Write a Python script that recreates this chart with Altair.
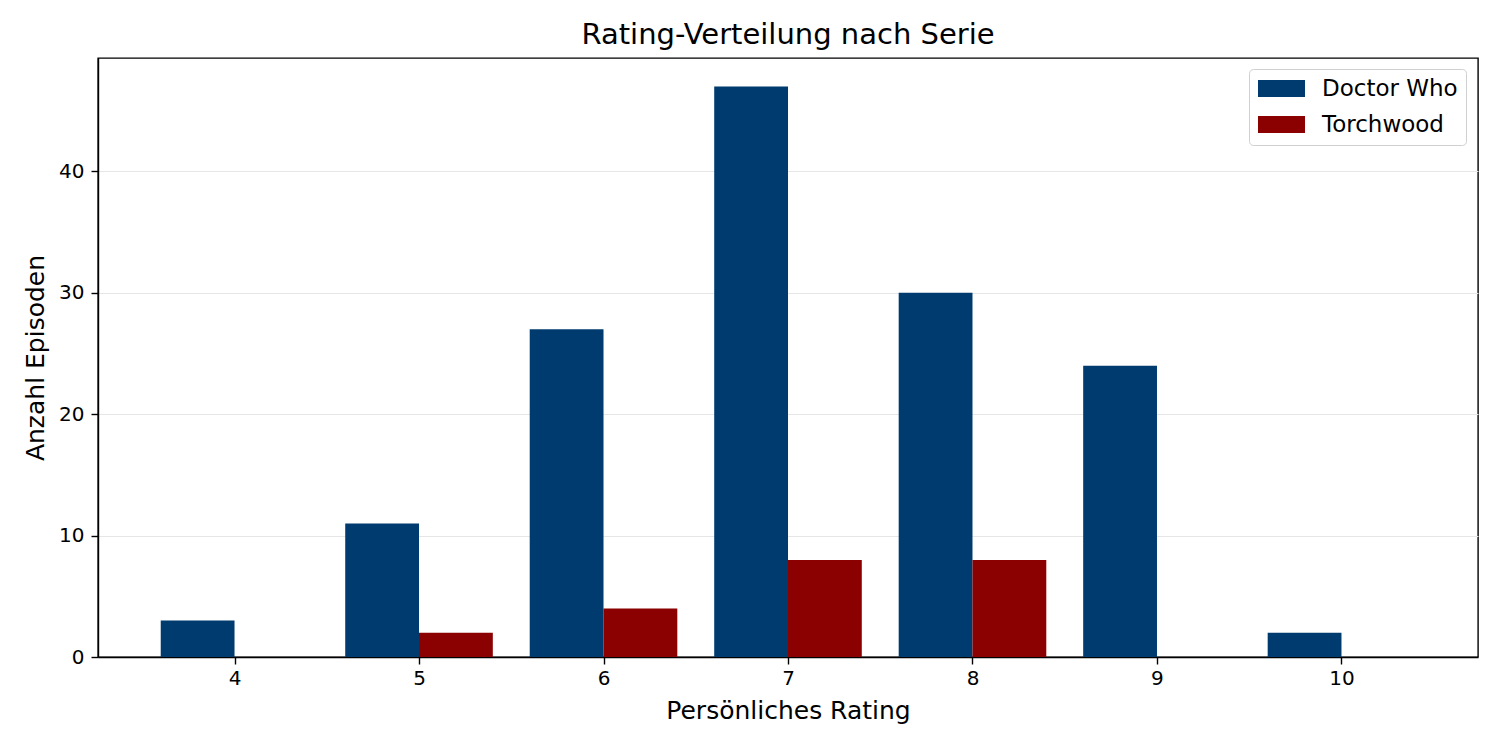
import altair as alt
import pandas as pd

ratings = [4, 5, 6, 7, 8, 9, 10]
doctor_who = [3, 11, 27, 47, 30, 24, 2]
torchwood = [0, 2, 4, 8, 8, 0, 0]
series = ["Doctor Who", "Torchwood"]
colors = ["#003b6f", "#8b0000"]
bar_width = 0.4

rows = []
for r, d, t in zip(ratings, doctor_who, torchwood):
    rows.append({"rating": r, "serie": series[0], "count": d, "x0": r - bar_width, "x1": r})
    rows.append({"rating": r, "serie": series[1], "count": t, "x0": r, "x1": r + bar_width})
df = pd.DataFrame(rows)

FONT = "DejaVu Sans"

bars = alt.Chart(df).mark_rect().encode(
    x=alt.X("x0:Q",
            scale=alt.Scale(domain=[3.26, 10.74], nice=False, zero=False),
            axis=alt.Axis(values=ratings, format="d", title="Persönliches Rating",
                          grid=False, tickSize=7, labelPadding=4, titlePadding=10)),
    x2="x1:Q",
    y=alt.Y("count:Q",
            scale=alt.Scale(domain=[0, 49.35], nice=False),
            axis=alt.Axis(values=[0, 10, 20, 30, 40], title="Anzahl Episoden",
                          grid=True, tickSize=7, labelPadding=7, titlePadding=10)),
    y2=alt.datum(0),
    color=alt.Color("serie:N",
                    scale=alt.Scale(domain=series, range=colors),
                    legend=alt.Legend(title=None, orient="none", legendX=1151, legendY=11,
                                      symbolType="M-2.8,-1H2.8V1H-2.8Z",
                                      symbolSize=282, symbolStrokeWidth=0,
                                      symbolOffset=13,
                                      labelFontSize=23, labelFont=FONT, labelOffset=29,
                                      rowPadding=12, padding=8,
                                      fillColor="white", strokeColor="#d0d0d0",
                                      cornerRadius=4, labelColor="black")),
)

chart = bars.properties(
    width=1380,
    height=599,
    title=alt.TitleParams("Rating-Verteilung nach Serie", fontSize=29, font=FONT,
                          fontWeight="normal", anchor="middle", offset=8, color="black"),
    autosize=alt.AutoSizeParams(type="none"),
    padding={"left": 90, "top": 50, "right": 14, "bottom": 85},
).configure_view(
    stroke="black", strokeWidth=1.4
).configure_axis(
    labelFont=FONT, titleFont=FONT, labelFontSize=20, titleFontSize=25,
    titleFontWeight="normal", labelColor="black", titleColor="black",
    domainColor="black", tickColor="black", gridColor="#e6e6e6", gridWidth=1.2,
    domainWidth=1.4, tickWidth=1.4,
).configure_axisY(
    labelAngle=0
)

chart.save("out.html", embed_options={"renderer": "svg", "actions": False})
